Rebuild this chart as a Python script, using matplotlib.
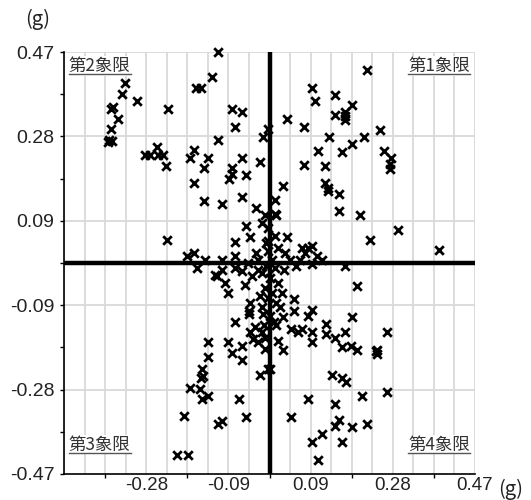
import numpy as np
import matplotlib
matplotlib.use('Agg')
import matplotlib.pyplot as plt
from matplotlib.lines import Line2D

# lateral / longitudinal acceleration samples (g)
gx = [-0.330, -0.338, -0.304, -0.359, -0.363, -0.346, -0.363, -0.366, -0.369, -0.360,
      -0.231, -0.285, -0.273, -0.258, -0.254, -0.243, -0.237, -0.235,
      -0.118, -0.132, -0.168, -0.157, -0.086, -0.062, -0.079, -0.118, -0.016, -0.003,
      -0.172, -0.182, -0.141, -0.149, -0.062, -0.086, -0.086, -0.093, -0.054, -0.022,
      -0.172, -0.149, -0.109, -0.062, -0.032, -0.010, -0.054, -0.045, -0.079, -0.172,
      -0.189, -0.079, -0.032, -0.003, -0.003, -0.003,
      0.222, 0.097, 0.150, 0.104, 0.189, 0.173, 0.150, 0.173, 0.173, 0.039,
      0.080, 0.136, 0.215, 0.189, 0.110, 0.165, 0.080, 0.127, 0.032, 0.127,
      0.134, 0.134, 0.159, 0.159, 0.207, 0.230, 0.039, 0.013, 0.013, 0.016,
      0.074, 0.089, 0.097, 0.035, 0.081, 0.108,
      0.253, 0.263, 0.278, 0.276, 0.276, 0.293, 0.388,
      -0.166, -0.125, -0.109, -0.102, -0.121, -0.094, -0.056, -0.079, -0.064, -0.041,
      -0.026, -0.045, -0.048, -0.048, -0.079, -0.014, -0.045, -0.033, -0.037, -0.026,
      -0.018, -0.010, -0.141, -0.094, -0.064, -0.086, -0.141, -0.062, -0.155, -0.151,
      -0.157, -0.022, -0.182, -0.159, -0.140, -0.155, -0.070, -0.195, -0.054, -0.118,
      -0.108, -0.212, -0.187, -0.010, -0.003,
      0.173, 0.199, 0.057, 0.057, 0.097, 0.089, 0.032, 0.189, 0.016, 0.049,
      0.066, 0.074, 0.097, 0.097, 0.129, 0.129, 0.150, 0.173, 0.165, 0.186,
      0.199, 0.019, 0.032, 0.001, 0.142, 0.166, 0.174, 0.212, 0.087, 0.150,
      0.049, 0.159, 0.150, 0.189, 0.222, 0.119, 0.097, 0.166, 0.110, 0.119,
      0.268, 0.245, 0.245, 0.244, 0.268,
      0.006, -0.008, 0.013, -0.017, 0.001, 0.019, -0.010, 0.006, -0.003, 0.015,
      -0.017, 0.001, 0.010, -0.013, 0.024, -0.022, 0.029, -0.008, 0.013, -0.017,
      0.019, 0.047, 0.061, 0.033, -0.026, -0.049, -0.109, -0.147, 0.070, 0.097]
gy = [0.402, 0.377, 0.360, 0.348, 0.344, 0.320, 0.298, 0.274, 0.270, 0.271,
      0.344, 0.241, 0.241, 0.258, 0.241, 0.241, 0.217, 0.051,
      0.469, 0.414, 0.390, 0.390, 0.344, 0.336, 0.304, 0.274, 0.280, 0.298,
      0.252, 0.233, 0.233, 0.211, 0.233, 0.211, 0.199, 0.186, 0.195, 0.226,
      0.179, 0.137, 0.132, 0.147, 0.123, 0.107, 0.083, 0.059, 0.046, 0.022,
      0.015, 0.015, 0.022, 0.077, 0.049, 0.026,
      0.430, 0.390, 0.375, 0.360, 0.351, 0.336, 0.329, 0.327, 0.318, 0.320,
      0.304, 0.280, 0.280, 0.265, 0.250, 0.248, 0.218, 0.217, 0.171, 0.179,
      0.166, 0.160, 0.154, 0.115, 0.107, 0.051, 0.059, 0.140, 0.110, 0.107,
      0.033, 0.033, 0.037, 0.022, 0.022, 0.015,
      0.296, 0.250, 0.235, 0.221, 0.210, 0.073, 0.029,
      -0.011, -0.026, -0.015, -0.044, -0.029, -0.066, -0.050, -0.011, -0.018, -0.029,
      -0.015, -0.088, -0.107, -0.114, -0.131, -0.114, -0.154, -0.143, -0.169, -0.177,
      -0.154, -0.166, -0.177, -0.177, -0.185, -0.200, -0.210, -0.217, -0.237, -0.252,
      -0.256, -0.249, -0.278, -0.281, -0.296, -0.302, -0.302, -0.340, -0.342, -0.359,
      -0.352, -0.428, -0.428, -0.191, -0.235,
      -0.006, -0.051, -0.081, -0.107, -0.104, -0.118, -0.121, -0.121, -0.138, -0.146,
      -0.153, -0.147, -0.154, -0.177, -0.136, -0.158, -0.168, -0.153, -0.188, -0.184,
      -0.193, -0.173, -0.193, -0.237, -0.249, -0.256, -0.265, -0.296, -0.302, -0.313,
      -0.342, -0.349, -0.364, -0.366, -0.359, -0.381, -0.399, -0.399, -0.438, 0.007,
      -0.153, -0.193, -0.202, -0.196, -0.287,
      0.007, -0.007, -0.011, -0.022, -0.033, -0.044, -0.055, -0.066, -0.077, -0.088,
      -0.099, -0.117, -0.132, -0.139, -0.099, -0.073, -0.066, 0.044, 0.060, 0.088,
      0.033, 0.007, -0.007, -0.015, 0.007, 0.000, 0.007, 0.007, 0.007, -0.002]

lim = 0.47
label_ticks = [-0.47, -0.282, -0.094, 0.094, 0.282, 0.47]
x_tick_labels = ['', '-0.28', '-0.09', '0.09', '0.28', '0.47']
y_tick_labels = ['-0.47', '-0.28', '-0.09', '0.09', '0.28', '0.47']
mark_ticks = [-0.376, -0.188, 0.0, 0.188, 0.376]
quadrant_names = ['第1象限', '第2象限', '第3象限', '第4象限']
unit = '(g)'

plt.rcParams['font.family'] = ['Liberation Sans', 'Noto Sans CJK JP', 'DejaVu Sans']
cjk = ['Noto Sans CJK JP', 'DejaVu Sans']

fig = plt.figure(figsize=(5.31, 5.0), dpi=100)
ax = fig.add_axes([64 / 531, 26 / 500, 411 / 531, 422 / 500])

# grid: dense vertical lines, horizontal only at labelled ticks
for gxl in np.linspace(-lim, lim, 21):
    ax.axvline(gxl, color='#d9d9d9', lw=1.3, zorder=0)
for gyl in label_ticks[1:]:
    ax.axhline(gyl, color='#d9d9d9', lw=1.3, zorder=0)

ax.scatter(gx, gy, marker='x', s=38, c='black', linewidths=2.0, zorder=3, clip_on=False)

ax.axhline(0, color='black', lw=3.2, zorder=4)
ax.axvline(0, color='black', lw=3.2, zorder=4)

ax.set_xlim(-lim, lim)
ax.set_ylim(-lim, lim)

ax.set_xticks(label_ticks)
ax.set_xticklabels(x_tick_labels)
ax.set_yticks(label_ticks)
ax.set_yticklabels(y_tick_labels)
ax.set_xticks(mark_ticks, minor=True)
ax.set_yticks(mark_ticks, minor=True)
ax.tick_params(axis='x', which='major', length=0, pad=2, labelsize=13.5, labelcolor='#222222')
ax.tick_params(axis='y', which='major', length=3, width=1, pad=4, labelsize=14, labelcolor='#222222')
ax.tick_params(which='minor', length=3, width=1)

for side in ['top', 'right']:
    ax.spines[side].set_visible(False)
for side in ['left', 'bottom']:
    ax.spines[side].set_linewidth(1.2)
    ax.spines[side].set_zorder(5)

# quadrant labels (underlined)
q_pos = [(0.988, 0.988, 'right', 'top'), (0.012, 0.988, 'left', 'top'),
         (0.012, 0.048, 'left', 'bottom'), (0.988, 0.048, 'right', 'bottom')]
q_texts = []
for name, (qx, qy, ha, va) in zip(quadrant_names, q_pos):
    t = ax.text(qx, qy, name, transform=ax.transAxes, ha=ha, va=va, fontsize=12.5,
                color='#333333', family=cjk, zorder=6,
                bbox=dict(facecolor='white', edgecolor='none', pad=0.5))
    q_texts.append(t)

fig.text(38 / 531, 1 - 19 / 500, unit, ha='center', va='center', fontsize=14.5,
         color='#222222', family=cjk)
fig.text(511 / 531, 1 - 489 / 500, unit, ha='center', va='center', fontsize=14.5,
         color='#222222', family=cjk)

fig.canvas.draw()
renderer = fig.canvas.get_renderer()
inv = fig.transFigure.inverted()
for t in q_texts:
    bb = t.get_window_extent(renderer)
    (x0, y0), (x1, _) = inv.transform([(bb.x0, bb.y0 + 1), (bb.x1, bb.y0 + 1)])
    fig.add_artist(Line2D([x0, x1], [y0, y0], color='#555555', lw=1.0, zorder=7))

plt.savefig('out.png', dpi=100)
plt.close()
